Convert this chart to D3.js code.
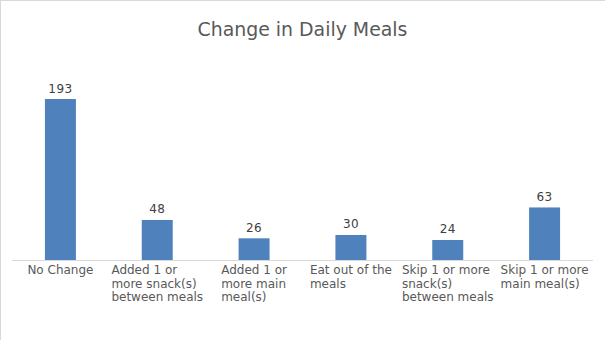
<!DOCTYPE html>
<html><head><meta charset="utf-8">
<script src="https://cdn.jsdelivr.net/npm/d3@7"></script>
<style>html,body{margin:0;padding:0;background:#fff;overflow:hidden}</style>
</head><body>
<svg id="chart" width="605" height="340"></svg>
<script>
const categories = [
  ["No Change"],
  ["Added 1 or", "more snack(s)", "between meals"],
  ["Added 1 or", "more main", "meal(s)"],
  ["Eat out of the", "meals"],
  ["Skip 1 or more", "snack(s)", "between meals"],
  ["Skip 1 or more", "main meal(s)"]
];
const values = [193, 48, 26, 30, 24, 63];
const title = "Change in Daily Meals";

const svg = d3.select("#chart");
const W = 605, H = 340;
const font = "'DejaVu Sans', sans-serif";

svg.append("rect").attr("x", 0.5).attr("y", 0.5).attr("width", W + 10).attr("height", H + 10)
  .attr("fill", "#fff").attr("stroke", "#d9d9d9").attr("stroke-width", 1);

svg.append("text").attr("x", 302.5).attr("y", 36).attr("text-anchor", "middle")
  .attr("font-family", font).attr("font-size", 18.9).attr("fill", "#595959").text(title);

const idx = d3.range(values.length);
const x = d3.scaleBand().domain(idx).range([12, 593]).paddingInner(0.68).paddingOuter(0.34);
const y = d3.scaleLinear().domain([0, 193]).range([260, 99]);

svg.selectAll("rect.bar").data(idx).join("rect").attr("class", "bar")
  .attr("x", i => x(i)).attr("width", x.bandwidth())
  .attr("y", i => y(values[i])).attr("height", i => y(0) - y(values[i]))
  .attr("fill", "#4f81bd");

svg.append("line").attr("x1", 12).attr("x2", 593).attr("y1", 260.5).attr("y2", 260.5)
  .attr("stroke", "#d9d9d9").attr("stroke-width", 1);

svg.selectAll("text.val").data(idx).join("text").attr("class", "val")
  .attr("x", i => x(i) + x.bandwidth() / 2).attr("y", i => y(values[i]) - 6.5)
  .attr("text-anchor", "middle").attr("font-family", font).attr("font-size", 12)
  .attr("letter-spacing", 0.4)
  .attr("fill", "#404040").text(i => values[i]);

idx.forEach(i => {
  const cx = x(i) + x.bandwidth() / 2;
  const g = svg.append("g");
  const t = g.append("text").attr("font-family", font).attr("font-size", 12).attr("fill", "#595959");
  categories[i].forEach((line, k) => {
    t.append("tspan").attr("x", 0).attr("y", 274 + k * 13.7).text(line);
  });
  const bb = t.node().getBBox();
  g.attr("transform", `translate(${cx - bb.width / 2},0)`);
});
</script>
</body></html>
